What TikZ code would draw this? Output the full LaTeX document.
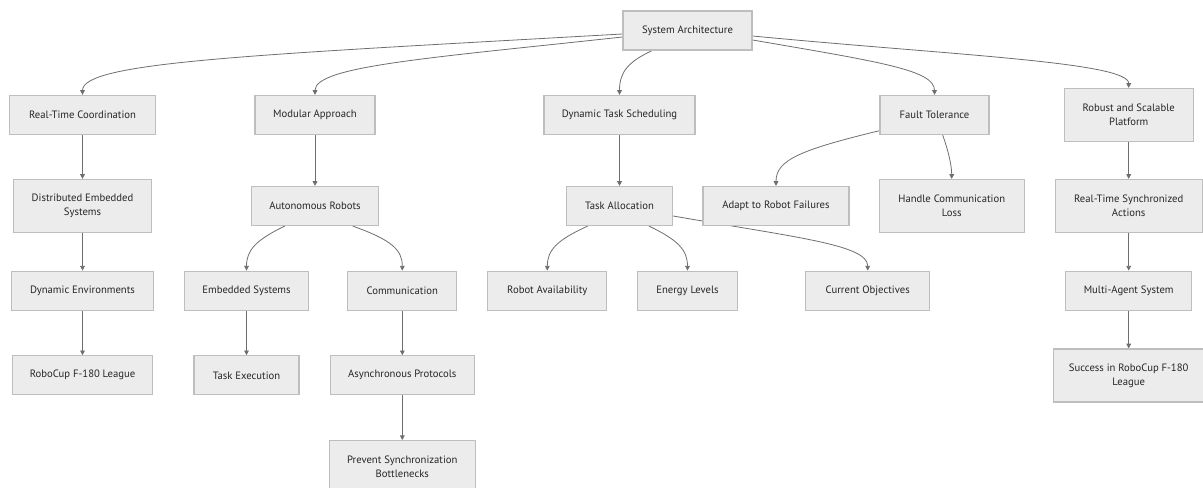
\documentclass[tikz,border=0pt]{standalone}
\usepackage{fontspec}
\setmainfont{PT Sans}
\usetikzlibrary{arrows.meta,calc}
\definecolor{boxfill}{HTML}{ECECEC}
\definecolor{boxline}{HTML}{BEBEBE}
\definecolor{edgecol}{HTML}{6E6E6E}
\definecolor{txt}{HTML}{262626}
\pgfdeclarelayer{bg}
\pgfsetlayers{bg,main}
\begin{document}
\begin{tikzpicture}[x=0.75pt,y=-0.75pt,
 box/.style={draw=boxline, line width=0.9pt, fill=boxfill, text=txt, align=center, inner sep=0pt,
   minimum height=29.25pt, font=\fontsize{8}{10.5}\selectfont},
 tall/.style={minimum height=39.75pt},
 wd/.style={minimum width=#1*0.75pt},
 conn/.style={draw=edgecol, line width=0.6pt, -{Triangle[length=3.5pt,width=3.5pt]}}]
\useasboundingbox (0,0) rectangle (1203,488);

\node[box,wd=129] (SA) at (687.5,30.5) {System Architecture};
\node[box,wd=146] (RTC) at (82.5,115) {Real-Time Coordination};
\node[box,wd=120] (MA) at (315,115) {Modular Approach};
\node[box,wd=151] (DTS) at (619.5,115) {Dynamic Task Scheduling};
\node[box,wd=109] (FT) at (934.5,115) {Fault Tolerance};
\node[box,tall,wd=129] (RSP) at (1128.7,115) {Robust and Scalable\\Platform};

\node[box,tall,wd=138] (DES) at (82.5,206) {Distributed Embedded\\Systems};
\node[box,wd=127] (AR) at (315,206) {Autonomous Robots};
\node[box,wd=106] (TA) at (619.5,206) {Task Allocation};
\node[box,wd=146] (ARF) at (776,206) {Adapt to Robot Failures};
\node[box,tall,wd=145] (HCL) at (951.7,206) {Handle Communication\\Loss};
\node[box,tall,wd=147] (RTSA) at (1128.7,206) {Real-Time Synchronized\\Actions};

\node[box,wd=142] (DE) at (82.5,290.7) {Dynamic Environments};
\node[box,wd=124] (ES) at (246.5,290.7) {Embedded Systems};
\node[box,wd=109] (COM) at (402.3,290.7) {Communication};
\node[box,wd=119] (RA) at (547.3,290.7) {Robot Availability};
\node[box,wd=100] (EL) at (687.5,290.7) {Energy Levels};
\node[box,wd=124] (CO) at (867.7,290.7) {Current Objectives};
\node[box,wd=126] (MAS) at (1128.7,290.7) {Multi-Agent System};

\node[box,wd=140] (RC) at (82.5,375.3) {RoboCup F-180 League};
\node[box,wd=105] (TE) at (246.5,375.3) {Task Execution};
\node[box,wd=144] (AP) at (402.3,375.3) {Asynchronous Protocols};
\node[box,tall,wd=150] (SRC) at (1128.7,375.5) {Success in RoboCup F-180\\League};

\node[box,tall,wd=146] (PSB) at (402.3,467.2) {Prevent Synchronization\\Bottlenecks};

\begin{pgfonlayer}{bg}
\draw[conn] ($(SA.west)+(0,3.5)$) .. controls (250,55) and (82.5,62) .. (RTC.north);
\draw[conn] ($(SA.west)+(0,6.5)$) .. controls (430,58) and (315,66) .. (MA.north);
\draw[conn] ($(SA.south)+(-35.5,0)$) .. controls (628,62) and (619.5,72) .. (DTS.north);
\draw[conn] ($(SA.east)+(0,9.5)$) .. controls (880,62) and (934.5,70) .. (FT.north);
\draw[conn] ($(SA.east)+(0,5.5)$) .. controls (950,55) and (1128.7,62) .. (RSP.north);

\draw[conn] (RTC.south) -- (DES.north);
\draw[conn] (DES.south) -- (DE.north);
\draw[conn] (DE.south) -- (RC.north);

\draw[conn] (MA.south) -- (AR.north);
\draw[conn] ($(AR.south)+(-30.3,0)$) .. controls (256,240) and (246.5,250) .. (ES.north);
\draw[conn] ($(AR.south)+(37.7,0)$) .. controls (392,240) and (402.3,250) .. (COM.north);
\draw[conn] (ES.south) -- (TE.north);
\draw[conn] (COM.south) -- (AP.north);
\draw[conn] (AP.south) -- (PSB.north);

\draw[conn] (DTS.south) -- (TA.north);
\draw[conn] ($(TA.south)+(-31.8,0)$) .. controls (557,240) and (547.3,250) .. (RA.north);
\draw[conn] ($(TA.south)+(29.5,0)$) .. controls (678,240) and (687.5,250) .. (EL.north);
\draw[conn] ($(TA.east)+(0,10)$) .. controls (800,238) and (867.7,245) .. (CO.north);

\draw[conn] ($(FT.west)+(0,15.7)$) .. controls (800,150) and (776,160) .. (ARF.north);
\draw[conn] ($(FT.south)+(8.2,0)$) .. controls (948,150) and (951.7,165) .. (HCL.north);

\draw[conn] (RSP.south) -- (RTSA.north);
\draw[conn] (RTSA.south) -- (MAS.north);
\draw[conn] (MAS.south) -- (SRC.north);
\end{pgfonlayer}
\end{tikzpicture}
\end{document}
